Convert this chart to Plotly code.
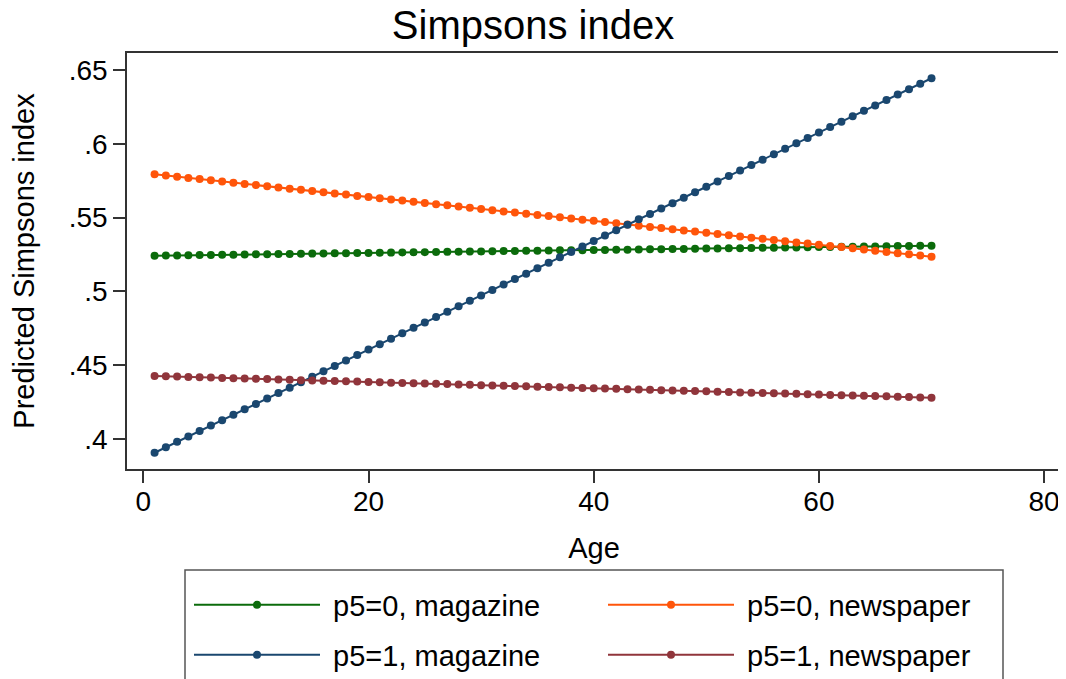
import plotly.graph_objects as go

# ---- data ----
ages = [1, 2, 3, 4, 5, 6, 7, 8, 9, 10, 11, 12, 13, 14, 15, 16, 17, 18, 19, 20,
        21, 22, 23, 24, 25, 26, 27, 28, 29, 30, 31, 32, 33, 34, 35, 36, 37, 38, 39, 40,
        41, 42, 43, 44, 45, 46, 47, 48, 49, 50, 51, 52, 53, 54, 55, 56, 57, 58, 59, 60,
        61, 62, 63, 64, 65, 66, 67, 68, 69, 70]

p5_0_magazine = [
    .5242, .5243, .5244, .5245, .5246, .5247, .5248, .5249, .5250, .5251,
    .5252, .5253, .5254, .5255, .5256, .5257, .5258, .5259, .5260, .5261,
    .5262, .5263, .5264, .5265, .5266, .5267, .5268, .5269, .5270, .5271,
    .5272, .5273, .5274, .5275, .5276, .5277, .5278, .5278, .5279, .5280,
    .5281, .5282, .5283, .5284, .5285, .5286, .5287, .5288, .5289, .5290,
    .5291, .5292, .5293, .5294, .5295, .5296, .5297, .5298, .5299, .5300,
    .5301, .5302, .5303, .5304, .5305, .5306, .5307, .5308, .5309, .5310]

p5_0_newspaper = [
    .5793, .5785, .5777, .5769, .5761, .5753, .5744, .5736, .5728, .5720,
    .5712, .5704, .5696, .5688, .5680, .5672, .5664, .5656, .5647, .5639,
    .5631, .5623, .5615, .5607, .5599, .5591, .5583, .5575, .5567, .5558,
    .5550, .5542, .5534, .5526, .5518, .5510, .5502, .5494, .5486, .5478,
    .5470, .5461, .5453, .5445, .5437, .5429, .5421, .5413, .5405, .5397,
    .5389, .5381, .5372, .5364, .5356, .5348, .5340, .5332, .5324, .5316,
    .5308, .5300, .5292, .5284, .5275, .5267, .5259, .5251, .5243, .5235]

p5_1_magazine = [
    .3907, .3944, .3981, .4017, .4054, .4091, .4128, .4164, .4201, .4238,
    .4275, .4311, .4348, .4385, .4422, .4459, .4495, .4532, .4569, .4606,
    .4642, .4679, .4716, .4753, .4789, .4826, .4863, .4900, .4937, .4973,
    .5010, .5047, .5084, .5120, .5157, .5194, .5231, .5267, .5304, .5341,
    .5378, .5414, .5451, .5488, .5525, .5562, .5598, .5635, .5672, .5709,
    .5745, .5782, .5819, .5856, .5892, .5929, .5966, .6003, .6040, .6076,
    .6113, .6150, .6187, .6223, .6260, .6297, .6334, .6370, .6407, .6444]

p5_1_newspaper = [
    .4427, .4425, .4423, .4421, .4418, .4416, .4414, .4412, .4410, .4408,
    .4406, .4404, .4401, .4399, .4397, .4395, .4393, .4391, .4389, .4387,
    .4384, .4382, .4380, .4378, .4376, .4374, .4372, .4369, .4367, .4365,
    .4363, .4361, .4359, .4357, .4355, .4352, .4350, .4348, .4346, .4344,
    .4342, .4340, .4338, .4335, .4333, .4331, .4329, .4327, .4325, .4323,
    .4320, .4318, .4316, .4314, .4312, .4310, .4308, .4306, .4303, .4301,
    .4299, .4297, .4295, .4293, .4291, .4289, .4286, .4284, .4282, .4280]

series_names = ["p5=0, magazine", "p5=0, newspaper", "p5=1, magazine", "p5=1, newspaper"]
x_tickvals = [0, 20, 40, 60, 80]
y_tickvals = [0.4, 0.45, 0.5, 0.55, 0.6, 0.65]
y_ticktext = [".4", ".45", ".5", ".55", ".6", ".65"]

# ---- style ----
colors = ["#0b6b0b", "#ff550a", "#1a476f", "#90353b"]
legends = ["legend", "legend", "legend2", "legend2"]
FONT = "Liberation Sans, Arial, Helvetica, sans-serif"

fig = go.Figure()
for name, ys, col, lg in zip(series_names,
                             [p5_0_magazine, p5_0_newspaper, p5_1_magazine, p5_1_newspaper],
                             colors, legends):
    fig.add_trace(go.Scatter(
        x=ages, y=ys, name="\u00a0" + name, mode="lines+markers",
        line=dict(color=col, width=2),
        marker=dict(color=col, size=8),
        legend=lg,
    ))

# page body has an 8px offset; work in figure coordinates
W, H = 1058, 671
L, R, T, B = 119, 5, 45, 210
pw, ph = W - L - R, H - T - B


def px_x(px):
    return (px - L) / pw


def px_y(py):
    return (H - B - py) / ph


leg_common = dict(
    orientation="h", xanchor="left", yanchor="middle",
    x=px_x(181), itemwidth=126, entrywidthmode="pixels", entrywidth=273,
    font=dict(family=FONT, size=29, color="black"),
    bgcolor="rgba(0,0,0,0)", borderwidth=0, itemclick=False,
)

fig.update_layout(
    width=W, height=H,
    margin=dict(l=L, r=R, t=T, b=B, autoexpand=False),
    paper_bgcolor="white", plot_bgcolor="white",
    font=dict(family=FONT, color="black"),
    title=dict(text="Simpsons index", x=(533 - 8) / W, xref="container", xanchor="center",
               y=1 - 3 / H, yref="container", yanchor="top", pad=dict(t=0, b=0),
               font=dict(family=FONT, size=40, color="black")),
    xaxis=dict(
        range=[-1.45, 81.5], tickvals=x_tickvals, ticks="outside", ticklen=12,
        tickwidth=1.5, tickcolor="#333", showgrid=False, zeroline=False,
        showline=True, linecolor="#333", linewidth=1.5, mirror=True,
        tickfont=dict(family=FONT, size=28, color="black"),
        ticklabelstandoff=-5,
        title=dict(text="Age", font=dict(family=FONT, size=29, color="black"), standoff=21),
    ),
    yaxis=dict(
        range=[0.3797, 0.6615], tickvals=y_tickvals, ticktext=y_ticktext,
        ticks="outside", ticklen=12, tickwidth=1.5, tickcolor="#333",
        showgrid=False, zeroline=False,
        showline=True, linecolor="#333", linewidth=1.5, mirror=True,
        tickfont=dict(family=FONT, size=28, color="black"),
        ticklabelstandoff=0,
        title=dict(text="Predicted Simpsons index", font=dict(family=FONT, size=29, color="black"),
                   standoff=30),
    ),
    legend=dict(y=px_y(597), **leg_common),
    legend2=dict(y=px_y(647), **leg_common),
    shapes=[dict(type="rect", xref="paper", yref="paper",
                 x0=px_x(177), x1=px_x(995), y0=px_y(562), y1=px_y(700),
                 line=dict(color="#555", width=1.5), fillcolor="rgba(0,0,0,0)",
                 layer="below")],
    showlegend=True,
)

fig.write_html("out.html")
